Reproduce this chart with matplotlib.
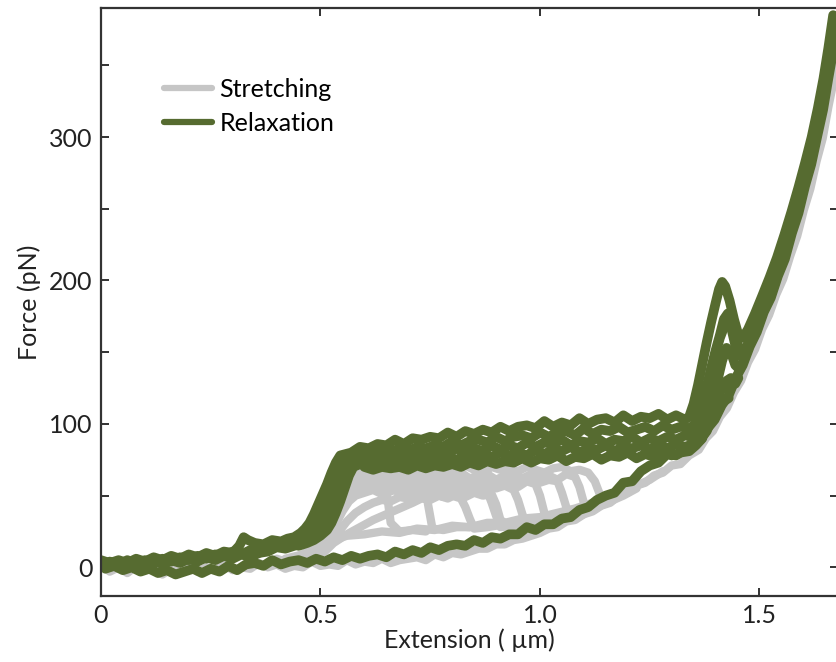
import numpy as np
import matplotlib
matplotlib.use('Agg')
import matplotlib.pyplot as plt

# Global presets
green = '#566b30'
gray = '#c6c6c6'
plt.rcParams['font.family'] = ['Lato', 'DejaVu Sans']

# ---- stretching traces (gray) ----
base_x = [0.00, 0.02, 0.04, 0.06, 0.08, 0.10, 0.12, 0.14, 0.16, 0.18, 0.20, 0.22, 0.24, 0.26,
          0.28, 0.30, 0.32, 0.34, 0.36, 0.38, 0.40, 0.42, 0.44, 0.46, 0.48, 0.50, 0.52, 0.54,
          0.56, 0.58, 0.60, 0.62, 0.64, 0.66, 0.68, 0.70, 0.72, 0.74, 0.76, 0.78, 0.80, 0.82,
          0.84, 0.86, 0.88, 0.90, 0.92, 0.94, 0.96, 0.98, 1.00, 1.02, 1.04, 1.06, 1.08, 1.10,
          1.12, 1.14, 1.16, 1.18, 1.20, 1.22, 1.24, 1.26, 1.28, 1.30, 1.32, 1.34, 1.362, 1.378,
          1.394, 1.41, 1.426, 1.442, 1.458, 1.474, 1.49, 1.506, 1.522, 1.538, 1.554, 1.57,
          1.586, 1.601, 1.616, 1.63, 1.644, 1.657, 1.669, 1.68, 1.69]
base_y = [2, -3, 0, -4, 1, -2, -1, -5, -1, -4, 1, -3, 0, -2,
          2, -2, 0, -1, 3, 0, 2, -1, 1, 0, 4, 1, 2, 1,
          5, 2, 4, 3, 6, 3, 5, 6, 7, 5, 9, 7, 10, 9,
          11, 13, 13, 16, 16, 19, 20, 22, 24, 27, 28, 32, 33, 37,
          39, 43, 45, 50, 52, 57, 59, 64, 66, 71, 72, 78, 82, 90,
          95, 105, 111, 122, 130, 143, 152, 166, 176, 190, 201, 217,
          231, 249, 264, 283, 299, 321, 339, 361, 382]

g1_x = [0.40, 0.42, 0.44, 0.46, 0.48, 0.495, 0.51, 0.525, 0.54, 0.555, 0.57,
        0.59, 0.61, 0.63, 0.65, 0.67, 0.69, 0.71, 0.73, 0.75, 0.77, 0.79, 0.81, 0.83, 0.85,
        0.87, 0.89, 0.91, 0.93, 0.95, 0.97, 0.99, 1.01, 1.03, 1.05, 1.07, 1.09, 1.11,
        1.125, 1.135, 1.145, 1.16, 1.18, 1.20, 1.22, 1.25, 1.28]
g1_y = [6, 4, 7, 9, 14, 24, 37, 50, 60, 66, 69,
        67, 70, 66, 69, 71, 67, 68, 70, 66, 69, 70, 67, 71, 68,
        66, 70, 68, 69, 67, 70, 68, 66, 69, 70, 67, 68, 66,
        60, 52, 46, 48, 51, 54, 57, 61, 67]

g2_x = [0.42, 0.45, 0.47, 0.49, 0.505, 0.52, 0.535, 0.55, 0.565, 0.58,
        0.60, 0.62, 0.64, 0.66, 0.68, 0.70, 0.72, 0.74, 0.76, 0.78, 0.80, 0.82, 0.84, 0.86,
        0.88, 0.90, 0.92, 0.94, 0.96, 0.98, 1.00, 1.02, 1.04, 1.06, 1.08,
        1.09, 1.10, 1.11, 1.13, 1.16, 1.19, 1.22]
g2_y = [5, 7, 10, 18, 30, 43, 53, 59, 63, 64,
        65, 62, 66, 63, 64, 61, 66, 64, 62, 65, 63, 66, 62, 64,
        65, 61, 64, 66, 62, 65, 63, 64, 61, 65, 63,
        56, 45, 40, 42, 46, 50, 55]

g3_x = [0.44, 0.47, 0.49, 0.505, 0.52, 0.535, 0.55, 0.565, 0.58,
        0.60, 0.62, 0.64, 0.66, 0.68, 0.70, 0.72, 0.74, 0.76, 0.78, 0.80, 0.82, 0.84, 0.86,
        0.88, 0.90, 0.92, 0.94, 0.96, 0.98, 1.00, 1.02, 1.04,
        1.05, 1.06, 1.075, 1.10, 1.13, 1.16]
g3_y = [6, 8, 13, 23, 36, 48, 56, 60, 61,
        62, 59, 63, 60, 61, 58, 63, 60, 62, 59, 61, 63, 59, 62,
        60, 61, 58, 62, 60, 63, 59, 61, 60,
        52, 42, 35, 38, 42, 46]

g4_x = [0.45, 0.48, 0.50, 0.515, 0.53, 0.545, 0.56, 0.575,
        0.59, 0.61, 0.63, 0.65, 0.67, 0.69, 0.71, 0.73, 0.75, 0.77, 0.79, 0.81, 0.83, 0.85,
        0.87, 0.89, 0.91, 0.93, 0.95, 0.97, 0.99,
        1.00, 1.01, 1.03, 1.06, 1.10]
g4_y = [7, 10, 16, 26, 38, 48, 54, 57,
        59, 56, 60, 57, 58, 61, 57, 59, 56, 60, 58, 57, 60, 56,
        59, 61, 57, 58, 56, 60, 58,
        50, 38, 31, 33, 37]

g5_x = [0.46, 0.49, 0.51, 0.525, 0.54, 0.555, 0.57, 0.585,
        0.60, 0.62, 0.64, 0.66, 0.68, 0.70, 0.72, 0.74, 0.76, 0.78, 0.80, 0.82, 0.84, 0.86,
        0.88, 0.90, 0.92, 0.94,
        0.95, 0.96, 0.97, 1.00, 1.04]
g5_y = [8, 12, 18, 28, 39, 47, 52, 55,
        56, 54, 57, 53, 56, 58, 54, 56, 53, 57, 55, 54, 57, 53,
        56, 55, 57, 54,
        47, 37, 29, 31, 34]

g6_x = [0.47, 0.50, 0.52, 0.535, 0.55, 0.565, 0.58,
        0.60, 0.62, 0.64, 0.66, 0.68, 0.70, 0.72, 0.74, 0.76, 0.78, 0.80, 0.82, 0.84, 0.86, 0.88,
        0.89, 0.90, 0.91, 0.94, 0.98]
g6_y = [9, 14, 21, 30, 39, 46, 50,
        52, 54, 51, 55, 52, 53, 50, 54, 51, 53, 55, 51, 54, 52, 53,
        45, 36, 28, 29, 31]

g7_x = [0.48, 0.51, 0.54, 0.56, 0.58, 0.60, 0.62, 0.64, 0.66, 0.68, 0.70, 0.72, 0.74, 0.76,
        0.78, 0.80, 0.82, 0.83, 0.84, 0.85, 0.88, 0.92]
g7_y = [9, 15, 24, 32, 38, 42, 45, 47, 46, 49, 48, 50, 48, 51,
        49, 50, 48, 42, 34, 27, 28, 30]

g8_x = [0.47, 0.49, 0.505, 0.52, 0.535, 0.55, 0.57, 0.59, 0.61, 0.63, 0.65, 0.67, 0.69, 0.71,
        0.73, 0.74, 0.745, 0.755, 0.78, 0.81, 0.84]
g8_y = [9, 16, 30, 45, 56, 62, 65, 62, 66, 63, 65, 62, 66, 63,
        64, 58, 44, 27, 26, 28, 28]

g9_x = [0.47, 0.49, 0.505, 0.52, 0.535, 0.55, 0.57, 0.59, 0.61, 0.63, 0.645, 0.652, 0.66,
        0.68, 0.71, 0.74]
g9_y = [8, 14, 27, 42, 54, 60, 62, 59, 63, 60, 61, 50, 31, 25, 26, 25]

g10_x = [0.48, 0.51, 0.53, 0.56, 0.59, 0.62, 0.65, 0.68, 0.71, 0.73, 0.75, 0.77, 0.79, 0.81,
         0.83, 0.85, 0.87, 0.89, 0.90, 0.91, 0.93, 0.96, 1.00]
g10_y = [7, 11, 17, 23, 28, 33, 37, 41, 45, 48, 47, 50, 48, 51,
         49, 52, 50, 51, 44, 33, 29, 31, 33]

g11_x = [0.42, 0.46, 0.50, 0.53, 0.56, 0.60, 0.64, 0.68, 0.72, 0.76, 0.80, 0.84, 0.88, 0.92,
         0.96, 1.00, 1.04, 1.08, 1.12, 1.16, 1.20]
g11_y = [6, 9, 14, 19, 22, 23, 25, 24, 27, 26, 29, 28, 31, 31, 34, 35, 38, 41, 45, 49, 54]

# ---- relaxation traces (green) ----
gl_x = [1.678, 1.668, 1.657, 1.645, 1.632, 1.618, 1.604, 1.589, 1.574, 1.558, 1.542, 1.526,
        1.51, 1.494, 1.478, 1.462, 1.446, 1.43, 1.414, 1.398, 1.382, 1.366, 1.35, 1.33, 1.31,
        1.29, 1.27, 1.25, 1.23, 1.21, 1.19, 1.17, 1.15, 1.13, 1.11, 1.09, 1.07, 1.05, 1.03,
        1.01, 0.99, 0.97, 0.95, 0.93, 0.91, 0.89, 0.87, 0.85, 0.83, 0.81, 0.79, 0.77, 0.75,
        0.73, 0.71, 0.69, 0.67, 0.65, 0.63, 0.61, 0.59, 0.57, 0.55, 0.53, 0.51, 0.49, 0.47,
        0.45, 0.43, 0.41, 0.39, 0.37, 0.35, 0.33, 0.31, 0.29, 0.27, 0.25, 0.23, 0.21, 0.19,
        0.17, 0.15, 0.13, 0.11, 0.09, 0.07, 0.05, 0.03, 0.01]
gl_y = [382, 360, 341, 319, 301, 281, 266, 247, 233, 215, 203, 188,
        178, 164, 154, 141, 132, 120, 113, 103, 97, 89, 86, 82, 78,
        79, 73, 71, 67, 60, 59, 52, 50, 47, 42, 40, 35, 34, 30,
        30, 26, 28, 23, 23, 20, 21, 17, 19, 15, 16, 15, 12, 14,
        10, 12, 9, 11, 7, 9, 8, 6, 8, 5, 7, 4, 6, 3,
        5, 4, 2, 5, 1, 3, 2, -2, 1, -3, -1, -4, -1, -3,
        -5, -2, -4, -1, -3, 0, -2, 1, -1]

p1_x = [1.668, 1.657, 1.646, 1.633, 1.619, 1.604, 1.589, 1.573, 1.557, 1.540, 1.523, 1.506,
        1.49, 1.474, 1.462, 1.452, 1.442, 1.432, 1.422, 1.415, 1.408, 1.40, 1.39, 1.38, 1.37,
        1.36, 1.35, 1.34, 1.33,
        1.31, 1.29, 1.27, 1.25, 1.23, 1.21, 1.19, 1.17, 1.15, 1.13, 1.11, 1.09, 1.07, 1.05,
        1.03, 1.01, 0.99, 0.97, 0.95, 0.93, 0.91, 0.89, 0.87, 0.85, 0.83, 0.81, 0.79, 0.77,
        0.75, 0.73, 0.71, 0.69, 0.67, 0.65, 0.63, 0.61, 0.59, 0.57,
        0.545, 0.535, 0.525, 0.515, 0.505, 0.495, 0.485, 0.475, 0.465, 0.455, 0.44, 0.425,
        0.41, 0.39, 0.37, 0.35, 0.335, 0.325, 0.315, 0.30, 0.28, 0.26, 0.24, 0.22, 0.20,
        0.18, 0.16, 0.14, 0.12, 0.10, 0.08, 0.06, 0.04, 0.02, 0.00]
p1_y = [385, 362, 341, 320, 300, 282, 265, 248, 232, 216, 202, 189,
        177, 166, 160, 162, 173, 186, 196, 199, 194, 184, 171, 157, 142,
        127, 114, 105, 103,
        106, 103, 107, 104, 105, 102, 106, 101, 104, 103, 100, 104, 99, 101,
        98, 102, 97, 99, 98, 95, 98, 94, 96, 93, 95, 91, 94, 90,
        91, 89, 90, 86, 89, 85, 86, 83, 84, 80,
        78, 73, 66, 58, 51, 44, 37, 31, 27, 24, 21, 20,
        18, 19, 16, 17, 19, 21, 15, 10, 11, 8, 10, 7, 9,
        6, 8, 5, 7, 4, 6, 3, 5, 3, 5]

p2_x = [1.672, 1.662, 1.651, 1.639, 1.626, 1.612, 1.598, 1.583, 1.567, 1.551, 1.535, 1.519,
        1.503, 1.487, 1.471, 1.458, 1.448, 1.438, 1.428, 1.419, 1.41, 1.40, 1.39, 1.38, 1.37,
        1.36, 1.35, 1.34,
        1.32, 1.30, 1.28, 1.26, 1.24, 1.22, 1.20, 1.18, 1.16, 1.14, 1.12, 1.10, 1.08, 1.06,
        1.04, 1.02, 1.00, 0.98, 0.96, 0.94, 0.92, 0.90, 0.88, 0.86, 0.84, 0.82, 0.80, 0.78,
        0.76, 0.74, 0.72, 0.70, 0.68, 0.66, 0.64, 0.62, 0.60, 0.58, 0.56,
        0.55, 0.54, 0.53, 0.52, 0.51, 0.50, 0.49, 0.48, 0.47, 0.455, 0.44, 0.42, 0.40, 0.38,
        0.36, 0.34, 0.32, 0.30, 0.28, 0.26, 0.24, 0.22, 0.20, 0.18, 0.16, 0.14, 0.12, 0.10,
        0.08, 0.06, 0.04, 0.02, 0.00]
p2_y = [380, 360, 340, 320, 301, 282, 265, 248, 232, 216, 202, 189,
        177, 165, 154, 147, 151, 164, 177, 173, 162, 151, 139, 126, 114,
        104, 99, 97,
        98, 96, 99, 95, 98, 96, 94, 98, 95, 96, 93, 97, 92, 95,
        94, 91, 94, 90, 92, 91, 88, 91, 87, 89, 88, 85, 88, 84,
        85, 83, 84, 81, 83, 80, 81, 79, 80, 77, 76,
        74, 68, 61, 53, 46, 39, 33, 28, 24, 21, 18, 17, 15, 16,
        10, 12, 9, 11, 8, 9, 6, 8, 5, 7, 4, 6, 3, 5,
        2, 5, 2, 4, 1]

p3_x = [1.455, 1.445, 1.435, 1.425, 1.415, 1.405, 1.395, 1.385, 1.375, 1.36, 1.345,
        1.33, 1.31, 1.29, 1.27, 1.25, 1.23, 1.21, 1.19, 1.17, 1.15, 1.13, 1.11, 1.09, 1.07,
        1.05, 1.03, 1.01, 0.99, 0.97, 0.95, 0.93, 0.91, 0.89, 0.87, 0.85, 0.83, 0.81, 0.79,
        0.77, 0.75, 0.73, 0.71, 0.69, 0.67, 0.65, 0.63, 0.61, 0.59, 0.57,
        0.56, 0.55, 0.54, 0.53, 0.52, 0.51, 0.50, 0.49, 0.475, 0.46, 0.44, 0.42, 0.40, 0.38,
        0.36, 0.34, 0.32, 0.30, 0.28, 0.26, 0.24, 0.22, 0.20, 0.18, 0.16, 0.14, 0.12, 0.10,
        0.08, 0.06, 0.04, 0.02, 0.00]
p3_y = [138, 141, 150, 153, 144, 131, 119, 108, 99, 93, 91,
        92, 89, 91, 88, 90, 87, 91, 88, 89, 86, 90, 87, 88, 85,
        89, 86, 87, 84, 87, 83, 85, 82, 85, 81, 83, 80, 83, 79,
        81, 78, 80, 77, 78, 76, 77, 75, 76, 74, 74,
        71, 64, 56, 48, 40, 33, 27, 23, 20, 17, 15, 13, 14, 11,
        10, 7, 9, 6, 8, 5, 7, 4, 6, 3, 5, 2, 5, 2,
        4, 1, 4, 1, 3]

p4_x = [1.43, 1.42, 1.41, 1.40, 1.39, 1.38, 1.365, 1.35,
        1.33, 1.31, 1.29, 1.27, 1.25, 1.23, 1.21, 1.19, 1.17, 1.15, 1.13, 1.11, 1.09, 1.07,
        1.05, 1.03, 1.01, 0.99, 0.97, 0.95, 0.93, 0.91, 0.89, 0.87, 0.85, 0.83, 0.81, 0.79,
        0.77, 0.75, 0.73, 0.71, 0.69, 0.67, 0.65, 0.63, 0.61, 0.59,
        0.575, 0.565, 0.555, 0.545, 0.535, 0.525, 0.515, 0.50, 0.485, 0.47, 0.45]
p4_y = [118, 116, 119, 112, 103, 95, 89, 86,
        84, 86, 83, 86, 82, 85, 83, 84, 81, 85, 82, 83, 80, 84,
        81, 82, 79, 82, 78, 80, 78, 80, 77, 79, 76, 78, 75, 77,
        75, 76, 74, 75, 72, 74, 72, 73, 71, 72,
        70, 64, 55, 46, 38, 31, 26, 22, 19, 17, 15]

p5_x = [1.37, 1.355, 1.34, 1.32, 1.30, 1.28, 1.26, 1.24, 1.22, 1.20, 1.18, 1.16, 1.14, 1.12,
        1.10, 1.08, 1.06, 1.04, 1.02, 1.00, 0.98, 0.96, 0.94, 0.92, 0.90, 0.88, 0.86, 0.84,
        0.82, 0.80, 0.78, 0.76, 0.74, 0.72, 0.70, 0.68, 0.66, 0.64, 0.62, 0.60]
p5_y = [90, 85, 81, 80, 78, 81, 77, 79, 76, 80, 77, 78, 75, 79,
        76, 77, 74, 78, 75, 76, 73, 76, 73, 74, 72, 74, 71, 73,
        70, 72, 70, 71, 69, 71, 68, 70, 69, 70, 68, 70]

# short pulls that fill the wedge under the 200 pN spike
p6_x = [1.458, 1.45, 1.44, 1.43, 1.42, 1.41, 1.40, 1.39, 1.38, 1.37, 1.36, 1.35]
p6_y = [150, 156, 166, 172, 168, 160, 149, 137, 124, 112, 103, 98]

p7_x = [1.452, 1.445, 1.435, 1.425, 1.415, 1.405, 1.395, 1.385, 1.375, 1.365]
p7_y = [132, 128, 132, 130, 124, 122, 112, 102, 95, 92]

stretch = [(base_x, base_y), (g1_x, g1_y), (g2_x, g2_y), (g3_x, g3_y), (g4_x, g4_y),
           (g5_x, g5_y), (g6_x, g6_y), (g7_x, g7_y), (g8_x, g8_y), (g9_x, g9_y),
           (g10_x, g10_y), (g11_x, g11_y)]
relax = [(gl_x, gl_y), (p1_x, p1_y), (p2_x, p2_y), (p3_x, p3_y), (p4_x, p4_y), (p5_x, p5_y),
         (p6_x, p6_y), (p7_x, p7_y)]


def main():
    fig = plt.figure(figsize=(8.37, 6.62), dpi=100)
    ax = fig.add_axes([101 / 837, 66 / 662, 737 / 837, 588 / 662])

    for i, (x, y) in enumerate(stretch):
        ax.plot(x, y, color=gray, lw=6, solid_capstyle='round', solid_joinstyle='round',
                label='Stretching' if i == 0 else None)
    for i, (x, y) in enumerate(relax):
        ax.plot(x, y, color=green, lw=7, solid_capstyle='round', solid_joinstyle='round',
                label='Relaxation' if i == 0 else None)

    ax.set_xlim(0, 1.679)
    ax.set_ylim(-20, 390)
    ax.set_xticks([0, 0.5, 1.0, 1.5])
    ax.set_xticklabels(['0', '0.5', '1.0', '1.5'])
    ax.set_yticks([0, 100, 200, 300])
    ax.set_yticks([50, 150, 250, 350], minor=True)
    ax.tick_params(which='both', direction='in', top=True, right=True, length=6, width=1.3,
                   labelsize=18, pad=6, colors='#222222')
    for s in ax.spines.values():
        s.set_linewidth(1.6)
        s.set_color('#333333')

    ax.set_xlabel('Extension ( \u00b5m)', fontsize=18, labelpad=1, color='#222222')
    ax.set_ylabel('Force (pN)', fontsize=18, labelpad=6, color='#222222')

    leg = ax.legend(loc='upper left', bbox_to_anchor=(0.069, 0.903), frameon=False, fontsize=18,
                    handlelength=1.9, handletextpad=0.3, labelspacing=0.44, borderpad=0)
    for h in leg.get_lines():
        h.set_linewidth(4.5)

    fig.savefig('out.png', dpi=100)


main()
